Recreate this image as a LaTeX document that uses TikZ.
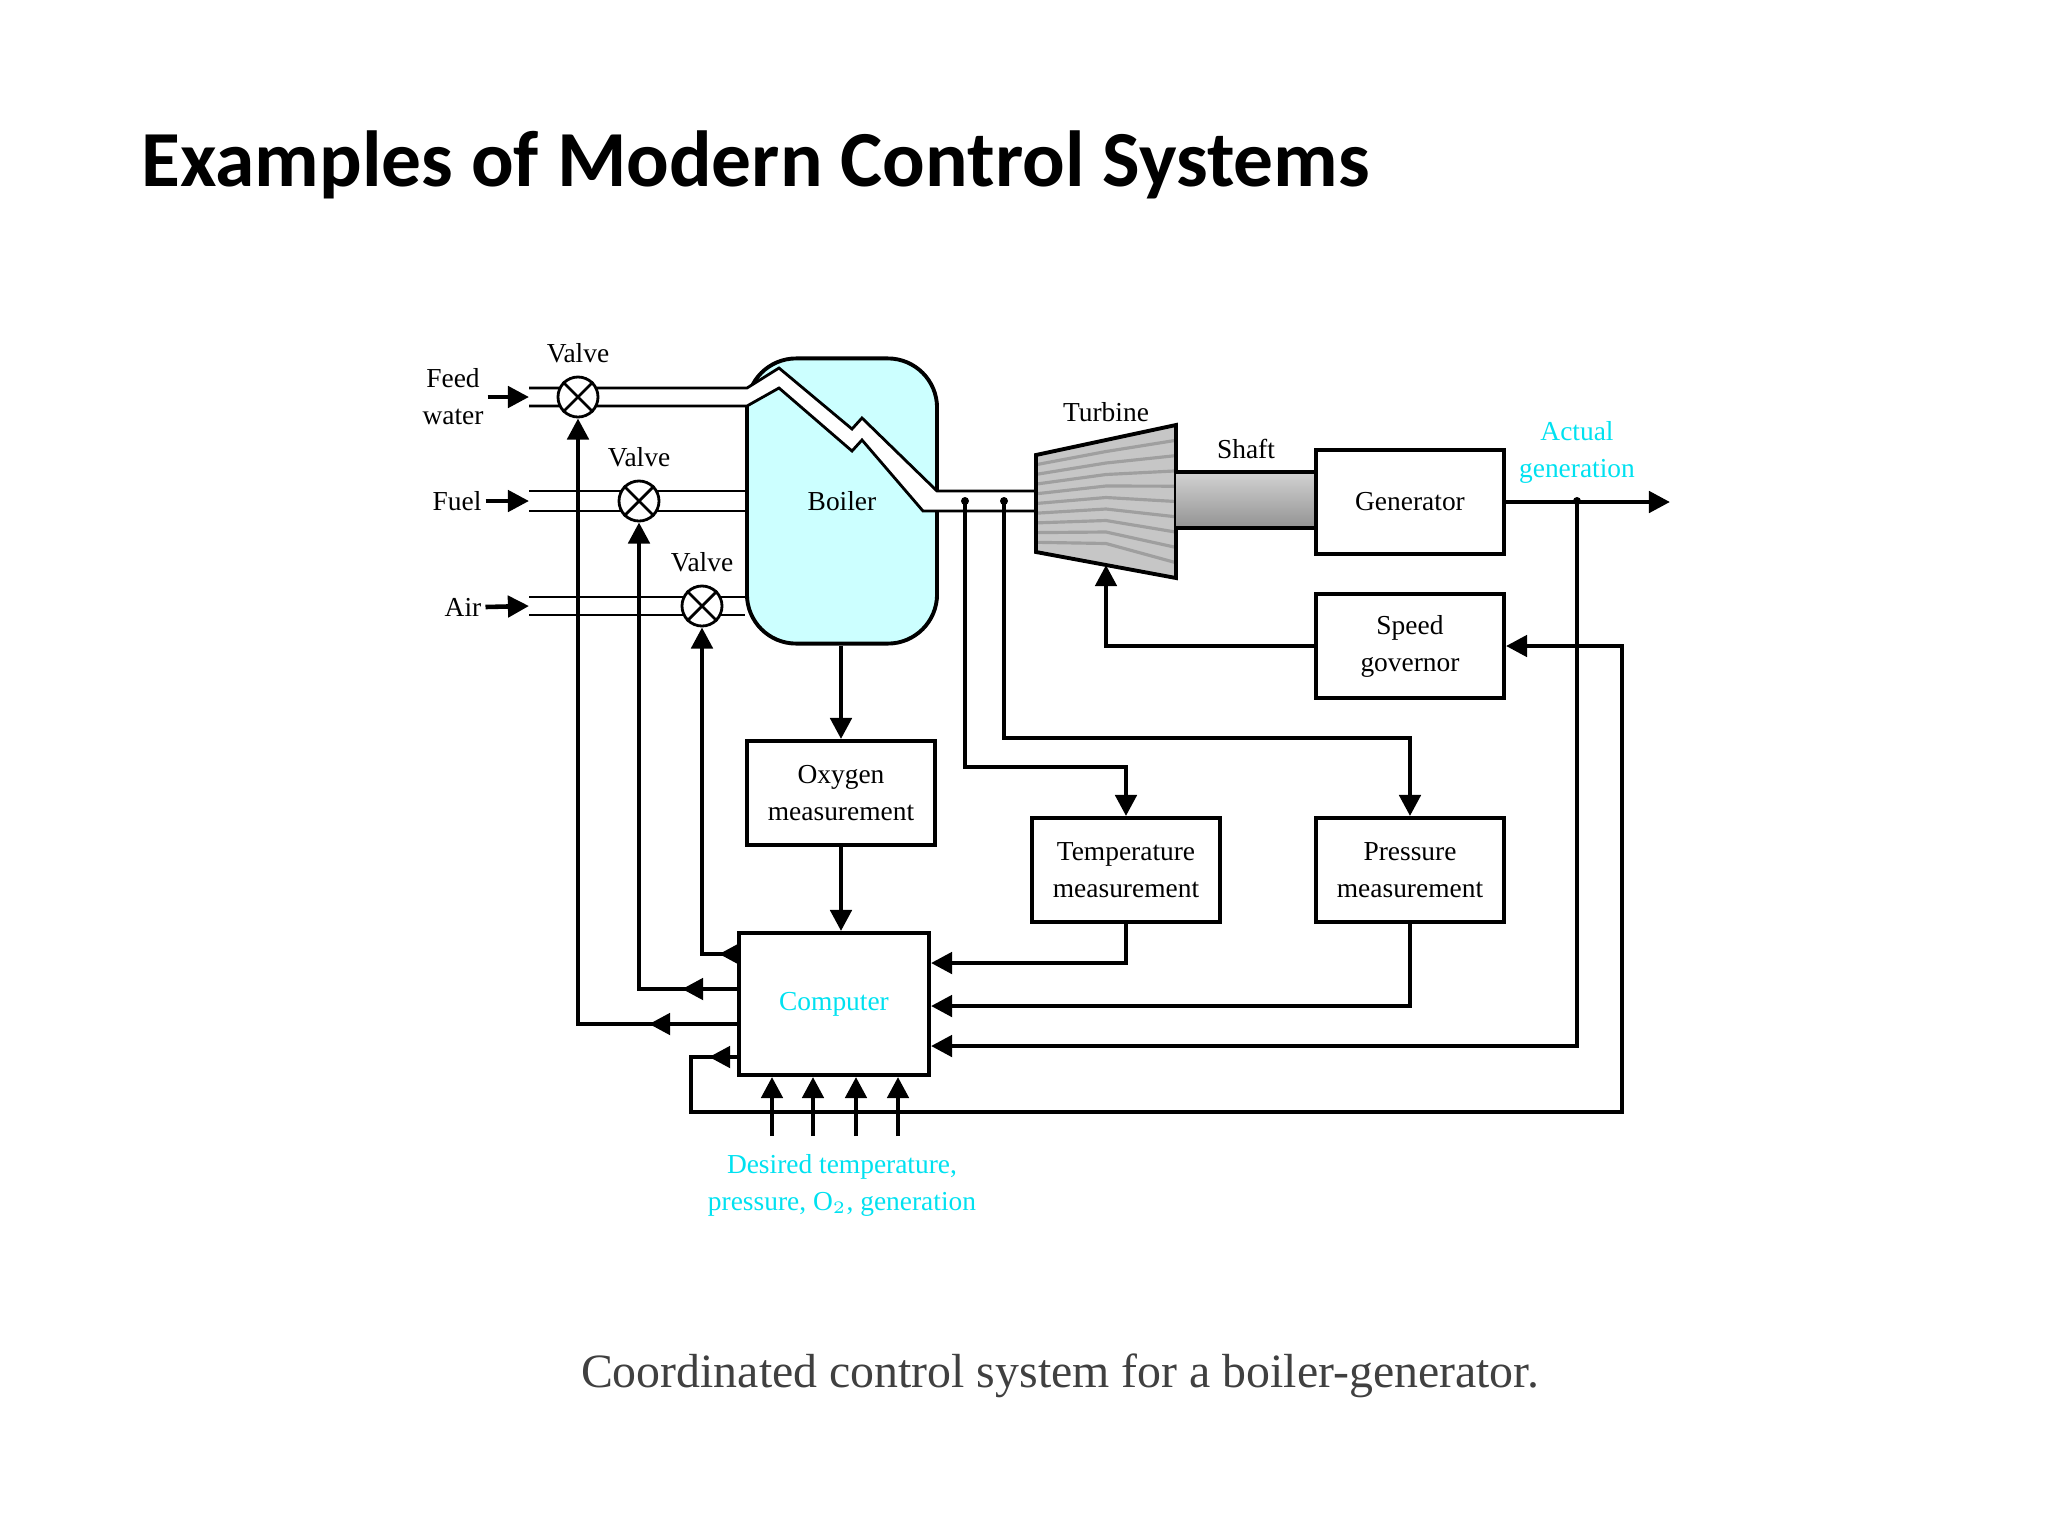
\documentclass[tikz,border=0pt]{standalone}
\usepackage{fontspec}
\setmainfont{Liberation Serif}
\newfontfamily\titlefont{Carlito}
\usetikzlibrary{arrows.meta,calc,positioning}
\definecolor{boilercyan}{RGB}{204,255,255}
\definecolor{labelcyan}{RGB}{0,225,240}
\tikzset{
  blk/.style={draw,line width=1.1pt,minimum width=1.88cm,minimum height=1.04cm,
    align=center,font=\fontsize{7.8}{10.5}\selectfont},
  lbl/.style={align=center,font=\fontsize{7.8}{10.5}\selectfont},
  sig/.style={line width=1.3pt,-{Triangle[length=6pt,width=6pt]}},
  pipe/.style={line width=0.8pt},
  valve/.style={draw,circle,fill=white,line width=0.8pt,minimum size=0.4cm,inner sep=0pt}
}
\begin{document}
\begin{tikzpicture}[x=0.01cm,y=-0.01cm]
  \useasboundingbox (0,0) rectangle (2048,1536);

  \node[anchor=west,font=\titlefont\bfseries\fontsize{22.6}{27}\selectfont] (title) at (129,165)
    {Examples of Modern Control Systems};

  \begin{scope}[xshift=-0.09cm]
  % boiler and steam pipe
  \node[draw,line width=1.1pt,fill=boilercyan,rounded corners=14,minimum width=1.9cm,
    minimum height=2.85cm] (blr) at (851,501) {};
  \fill[white] (538,388) -- (756,388) -- (788,368) -- (861,429) -- (871,418) -- (946,491)
    -- (1045,491) -- (1045,511) -- (932,511) -- (871,440) -- (861,451) -- (788,388)
    -- (756,406) -- (538,406) -- cycle;
  \draw[pipe] (538,388) -- (756,388) -- (788,368) -- (861,429) -- (871,418) -- (946,491) -- (1045,491);
  \draw[pipe] (538,406) -- (756,406) -- (788,388) -- (861,451) -- (871,440) -- (932,511) -- (1045,511);
  \node[lbl] at (851,501) {Boiler};

  \draw[pipe] (538,491) -- (blr.west |- 0,491);
  \draw[pipe] (538,511) -- (blr.west |- 0,511);
  \draw[pipe] (538,597) -- (blr.west |- 0,597);
  \draw[pipe] (538,615) -- (blr.west |- 0,615);

  % valves
  \node[valve] (vfeed) at (587,397) {};
  \node[valve] (vfuel) at (648,501) {};
  \node[valve] (vair)  at (711,606) {};
  \foreach \v in {vfeed,vfuel,vair}{
    \draw[pipe] (\v.north west) -- (\v.south east);
    \draw[pipe] (\v.north east) -- (\v.south west);
    \node[lbl,above=0pt of \v] {Valve};
  }

  % inputs
  \node[lbl,inner sep=1pt] (feed) at (462,397) {Feed\\water};
  \node[lbl,inner sep=1pt] (fuel) at (466,501) {Fuel};
  \node[lbl,inner sep=1pt] (air)  at (472,607) {Air};
  \draw[sig] (feed.east) -- (538,397);
  \draw[sig] (fuel.east) -- (538,501);
  \draw[sig] (air.east) -- (538,606);

  % turbine, shaft, generator
  \coordinate (ttl) at (1045,455); \coordinate (tbl) at (1045,552);
  \coordinate (ttr) at (1185,425); \coordinate (tbr) at (1185,578);
  \begin{scope}
    \clip (ttl) -- (ttr) -- (tbr) -- (tbl) -- cycle;
    \fill[gray!45] (1045,420) rectangle (1185,580);
    \foreach \k in {1,...,9}
      \draw[gray!75,line width=0.9pt] (1045,455+\k*9.7) -- (1115,440+\k*11.5) -- (1185,425+\k*15.3);
  \end{scope}
  \draw[line width=1.1pt] (ttl) -- (ttr) -- (tbr) -- (tbl) -- cycle;
  \node[lbl] (turb) at (1115,412) {Turbine};

  \shade[top color=gray!35,middle color=white,bottom color=gray!85] (1185,472) rectangle (1325,528);
  \draw[line width=1.1pt] (1185,472) -- (1325,472) (1185,528) -- (1325,528);
  \node[lbl] (shaft) at (1255,449) {Shaft};

  \node[blk] (gen) at (1419,502) {Generator};
  \node[blk] (gov) at (1419,646) {Speed\\governor};
  \node[lbl,text=labelcyan] (act) at (1586,452) {Actual\\generation};

  % measurements and computer
  \node[blk] (oxy) at (850,793)  {Oxygen\\measurement};
  \node[blk] (tmp) at (1135,870) {Temperature\\measurement};
  \node[blk] (prs) at (1419,870) {Pressure\\measurement};
  \node[blk,minimum width=1.9cm,minimum height=1.42cm,text=labelcyan] (cmp) at (843,1004) {Computer};

  \coordinate (tapT) at (974,501);
  \coordinate (tapP) at (1013,501);
  \coordinate (tapG) at (1586,501);
  \fill (tapT) circle (4) (tapP) circle (4) (tapG) circle (4);

  \draw[sig] (blr.south -| oxy.north) -- (oxy.north);
  \draw[sig] (oxy.south) -- (cmp.north -| oxy.south);
  \draw[sig] (tapT) |- ($(tmp.north)+(0,-49)$) -- (tmp.north);
  \draw[sig] (tapP) |- ($(prs.north)+(0,-78)$) -- (prs.north);
  \draw[sig] (tmp.south) |- ($(cmp.east)+(0,-41)$);
  \draw[sig] (prs.south) |- ($(cmp.east)+(0,2)$);
  \draw[sig] (tapG) |- ($(cmp.east)+(0,42)$);
  \draw[sig] (gen.east) -- (1679,502);
  \draw[sig] (gov.west) -| (1115,565);

  % computer to valves
  \draw[sig] ($(cmp.west)+(0,-50)$) -| (vair.south);
  \draw[sig] ($(cmp.west)+(0,-15)$) -| (vfuel.south);
  \draw[sig] ($(cmp.west)+(0,20)$) -| (vfeed.south);
  \draw[sig] ($(cmp.west)+(0,-50)$) -- ++(-18,0);
  \draw[sig] ($(cmp.west)+(0,-15)$) -- ++(-55,0);
  \draw[sig] ($(cmp.west)+(0,20)$) -- ++(-88,0);

  % speed loop
  \coordinate (loopL) at (700,1112);
  \coordinate (loopR) at (1631,1112);
  \draw[sig] ($(cmp.west)+(0,53)$) -| (loopL) -- (loopR) |- (gov.east);
  \draw[sig] ($(cmp.west)+(0,53)$) -- ++(-28,0);

  % set points
  \foreach \x in {781,822,865,907}
    \draw[sig] (\x,1136) -- (cmp.south -| \x,0);
  \node[lbl,text=labelcyan] (des) at (851,1185) {Desired temperature,\\pressure, O$_2$, generation};
  \end{scope}

  \node[text=black!75,font=\fontsize{13.6}{17}\selectfont] (cap) at (1060,1376)
    {Coordinated control system for a boiler-generator.};
\end{tikzpicture}
\end{document}
